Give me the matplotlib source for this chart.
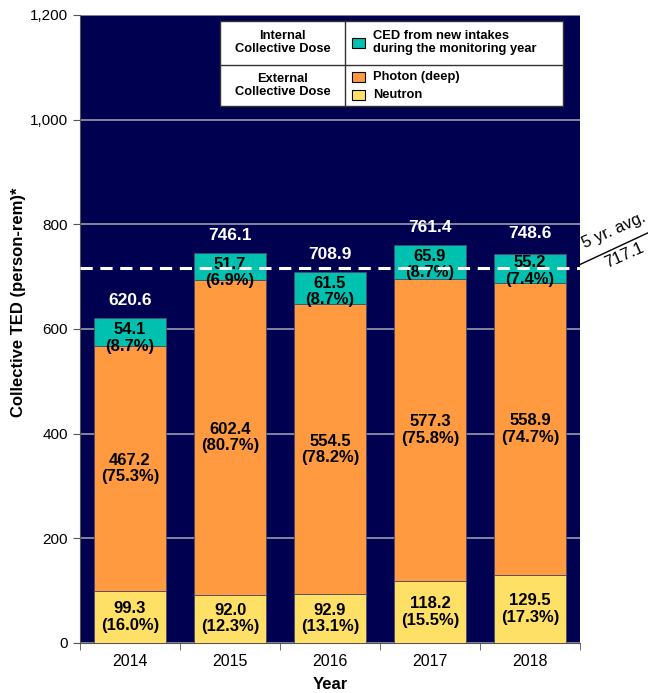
import numpy as np
import matplotlib.pyplot as plt
from matplotlib.patches import Rectangle

plt.rcParams['font.family'] = ['Liberation Sans', 'DejaVu Sans']

# ----------------------------------------------------------------------------
# Data
# ----------------------------------------------------------------------------
years = ["2014", "2015", "2016", "2017", "2018"]
neutron = [99.3, 92.0, 92.9, 118.2, 129.5]
photon = [467.2, 602.4, 554.5, 577.3, 558.9]
internal = [54.1, 51.7, 61.5, 65.9, 55.2]
totals = [620.6, 746.1, 708.9, 761.4, 748.6]
neutron_pct = ["16.0%", "12.3%", "13.1%", "15.5%", "17.3%"]
photon_pct = ["75.3%", "80.7%", "78.2%", "75.8%", "74.7%"]
internal_pct = ["8.7%", "6.9%", "8.7%", "8.7%", "7.4%"]
five_yr_avg = 717.1

NAVY = "#000050"
TEAL = "#00C0B0"
ORANGE = "#FF9A40"
YELLOW = "#FFE066"
EDGE = "#4a4a6a"

# ----------------------------------------------------------------------------
# Figure
# ----------------------------------------------------------------------------
fig = plt.figure(figsize=(6.48, 6.93), dpi=100)
ax = fig.add_axes([0.1235, 0.0722, 0.7716, 0.9062])
ax.set_facecolor(NAVY)

x = np.arange(len(years))
w = 0.72
neutron = np.array(neutron)
photon = np.array(photon)
internal = np.array(internal)

ax.bar(x, neutron, w, color=YELLOW, edgecolor=EDGE, linewidth=0.6, zorder=3)
ax.bar(x, photon, w, bottom=neutron, color=ORANGE, edgecolor=EDGE,
       linewidth=0.6, zorder=3)
ax.bar(x, internal, w, bottom=neutron + photon, color=TEAL, edgecolor=EDGE,
       linewidth=0.6, zorder=3)

lab = dict(ha="center", fontsize=12, fontweight="bold", color="black",
           zorder=5, linespacing=1.1)
for i in range(len(years)):
    ax.text(x[i], neutron[i] / 2, f"{neutron[i]:.1f}\n({neutron_pct[i]})",
            va="center", **lab)
    ax.text(x[i], neutron[i] + photon[i] / 2,
            f"{photon[i]:.1f}\n({photon_pct[i]})", va="center", **lab)
    ax.annotate(f"{internal[i]:.1f}\n({internal_pct[i]})",
                (x[i], totals[i]), xytext=(0, -3),
                textcoords="offset points", va="top", **lab)
    ax.annotate(f"{totals[i]:.1f}", (x[i], totals[i]), xytext=(0, 7),
                textcoords="offset points", va="bottom", ha="center",
                fontsize=12.5, fontweight="bold", color="white", zorder=5)

# 5 year average
ax.axhline(five_yr_avg, color="white", linestyle=(0, (4, 2.5)),
           linewidth=2.2, zorder=6)

ax.set_xlim(-0.5, len(years) - 0.5)
ax.set_ylim(0, 1200)
ax.set_yticks(np.arange(0, 1201, 200))
ax.set_yticklabels([f"{v:,}" for v in range(0, 1201, 200)])
ax.yaxis.grid(True, color="#9a9aaa", linewidth=1.2, zorder=0)
ax.set_xticks(x)
ax.set_xticklabels(years)
ax.set_xticks(np.arange(-0.5, len(years)), minor=True)
ax.tick_params(axis="x", which="major", length=0, labelsize=11.5, pad=8)
ax.tick_params(axis="x", which="minor", length=5, color="#555555")
ax.tick_params(axis="y", labelsize=11, length=5, color="#555555")
for s in ["top", "right"]:
    ax.spines[s].set_visible(False)
for s in ["left", "bottom"]:
    ax.spines[s].set_color("#555555")

ax.set_xlabel("Year", fontsize=12, fontweight="bold", labelpad=6)
ax.set_ylabel("Collective TED (person-rem)*", fontsize=12,
              fontweight="bold")
ax.yaxis.set_label_coords(-0.108, 0.543)

# legend table
lt = ax.transAxes
ax.add_patch(Rectangle((0.28, 0.855), 0.686, 0.135, transform=lt,
                       facecolor="white", edgecolor="#333333", lw=1.0,
                       zorder=7))
ax.plot([0.53, 0.53], [0.855, 0.99], transform=lt, color="#333333", lw=1.0,
        zorder=8)
ax.plot([0.28, 0.966], [0.921, 0.921], transform=lt, color="#333333",
        lw=1.0, zorder=8)
leg = dict(fontsize=9.3, fontweight="bold", color="black", zorder=9,
           transform=lt, linespacing=1.15)
ax.text(0.405, 0.956, "Internal\nCollective Dose", ha="center", va="center",
        **leg)
ax.text(0.405, 0.888, "External\nCollective Dose", ha="center", va="center",
        **leg)
ax.text(0.586, 0.956, "CED from new intakes\nduring the monitoring year",
        ha="left", va="center", **leg)
ax.text(0.586, 0.901, "Photon (deep)", ha="left", va="center", **leg)
ax.text(0.586, 0.873, "Neutron", ha="left", va="center", **leg)
for yc, col in [(0.956, TEAL), (0.901, ORANGE), (0.873, YELLOW)]:
    ax.add_patch(Rectangle((0.544, yc - 0.008), 0.026, 0.016, transform=lt,
                           facecolor=col, edgecolor="black", lw=0.8,
                           zorder=9))

# average annotation outside the axes
fig.lines.append(plt.Line2D([0.892, 1.0], [0.617, 0.664],
                            transform=fig.transFigure, color="black",
                            lw=1.0))
fig.text(0.948, 0.668, "5 yr. avg.", rotation=24, fontsize=12,
         ha="center", va="center")
fig.text(0.964, 0.631, f"{five_yr_avg:.1f}", rotation=24, fontsize=12,
         ha="center", va="center")

fig.savefig("out.png", dpi=100)
